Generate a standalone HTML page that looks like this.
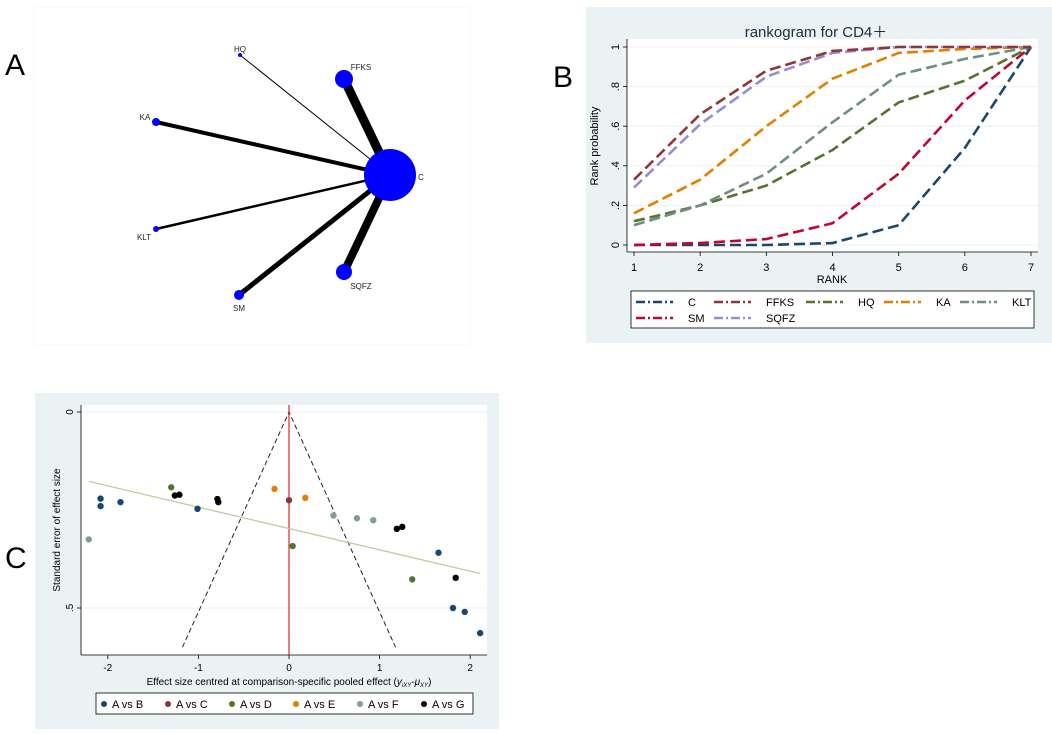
<!DOCTYPE html>
<html><head><meta charset="utf-8">
<style>
body{margin:0;background:#fff;width:1052px;height:734px;overflow:hidden;font-family:"Liberation Sans",sans-serif;}
svg{position:absolute;left:0;top:0;}
</style></head>
<body>
<svg id="fig" width="1052" height="734" xmlns="http://www.w3.org/2000/svg" font-family="Liberation Sans, sans-serif">
  <text x="5" y="75" font-size="30">A</text>
  <text x="553" y="87" font-size="30">B</text>
  <text x="5" y="568" font-size="30">C</text>
  <rect x="34" y="7" width="436" height="338" fill="none" stroke="#f8f8f8"/>
  <g id="net"></g>
  <rect x="586" y="7" width="466" height="336" fill="#eaf2f3"/>
  <g id="rank"></g>
  <rect x="35" y="393" width="464" height="336" fill="#eaf2f3"/>
  <g id="funnel"></g>
</svg>
<script>
// ---------- Network data ----------
const nodeNames = ["C","HQ","FFKS","KA","KLT","SM","SQFZ"];
const nodeX = [390,240,344,156,156,239,344];
const nodeY = [175,55,79,122,229,295,272];
const nodeSize = [26,2,9,4,3,5,8];
const edgeWidth = [0,1,9,4,2.5,5,8];
const labelDX = [31,0,17,-11,-12,0,17];
const labelDY = [5,-3,-9,-2,11,16,17];

// ---------- Rankogram data ----------
const ranks = [1,2,3,4,5,6,7];
const treatments = ["C","FFKS","HQ","KA","KLT","SM","SQFZ"];
const probC    = [0,0,0,0.01,0.10,0.49,1];
const probFFKS = [0.33,0.66,0.88,0.98,1,1,1];
const probHQ   = [0.12,0.20,0.30,0.48,0.72,0.83,1];
const probKA   = [0.16,0.33,0.60,0.84,0.97,0.99,1];
const probKLT  = [0.10,0.20,0.36,0.62,0.86,0.94,1];
const probSM   = [0,0.01,0.03,0.11,0.36,0.73,1];
const probSQFZ = [0.29,0.61,0.85,0.97,1,1,1];
const rankYTicks = [0,0.2,0.4,0.6,0.8,1];
const rankYLabels = ["0",".2",".4",".6",".8","1"];

// ---------- Funnel data ----------
const groups = ["A vs B","A vs C","A vs D","A vs E","A vs F","A vs G"];
const effB = [-2.08,-2.08,-1.86,-1.01,1.65,1.81,1.94,2.11];
const seB  = [0.221,0.240,0.230,0.247,0.359,0.500,0.510,0.564];
const effC = [0];
const seC  = [0.225];
const effD = [-1.30,0.04,1.36];
const seD  = [0.192,0.342,0.427];
const effE = [-0.16,0.18];
const seE  = [0.196,0.219];
const effF = [-2.21,0.49,0.75,0.93];
const seF  = [0.325,0.264,0.271,0.276];
const effG = [-1.26,-1.21,-0.79,-0.78,1.19,1.25,1.84];
const seG  = [0.213,0.211,0.222,0.230,0.298,0.293,0.423];
const regLineX = [-2.21,2.11];
const regLineY = [0.177,0.412];
const funnelMaxSE = [0.6];
const funnelXTicks = [-2,-1,0,1,2];
const funnelYTicks = [0,0.5];
const funnelYLabels = ["0",".5"];

const NS="http://www.w3.org/2000/svg";
function mk(parent,tag,attrs,text){const e=document.createElementNS(NS,tag);for(const k in attrs)e.setAttribute(k,attrs[k]);if(text!==undefined)e.textContent=text;parent.appendChild(e);return e;}

// ---------- Network ----------
(function(){
  const g=document.getElementById('net');
  for(let i=1;i<nodeNames.length;i++){
    const l=mk(g,'line',{x1:nodeX[0],y1:nodeY[0],x2:nodeX[i],y2:nodeY[i],stroke:'#000','stroke-width':edgeWidth[i]});
    
    
  }
  for(let i=0;i<nodeNames.length;i++){
    const c=mk(g,'circle',{cx:nodeX[i],cy:nodeY[i],r:nodeSize[i],fill:'#0000ff'});
    
    
    const t=mk(g,'text',{x:nodeX[i]+labelDX[i],y:nodeY[i]+labelDY[i],'font-size':8,'text-anchor':'middle',fill:'#222'},nodeNames[i]);
    
    
  }
})();

// ---------- Rankogram ----------
(function(){
  const g=document.getElementById('rank');
  const L=627,R=1038,T=39,B=252;
  const xs=r=>634+(r-1)*(1031-634)/6;
  const ys=v=>245-v*(245-47);
  mk(g,'rect',{x:L,y:T,width:R-L,height:B-T,fill:'#fff'});
  const title=mk(g,'text',{x:816,y:37,'font-size':15,'text-anchor':'middle',fill:'#1e2d3c'},'rankogram for CD4＋');
  
  
  rankYTicks.forEach((v,i)=>{
    const gl=mk(g,'line',{x1:L,x2:R,y1:ys(v),y2:ys(v),stroke:'#eaf2f3','stroke-width':1});
    
    
    mk(g,'line',{x1:L-4,x2:L,y1:ys(v),y2:ys(v),stroke:'#000','stroke-width':0.8});
    const t=mk(g,'text',{x:0,y:0,'font-size':11,'text-anchor':'middle',transform:`translate(619,${ys(v)}) rotate(-90)`},rankYLabels[i]);
    
    
  });
  mk(g,'line',{x1:L,x2:L,y1:T,y2:B,stroke:'#000','stroke-width':0.8});
  mk(g,'line',{x1:L,x2:R,y1:B,y2:B,stroke:'#000','stroke-width':0.8});
  ranks.forEach(r=>{
    mk(g,'line',{x1:xs(r),x2:xs(r),y1:B,y2:B+4,stroke:'#000','stroke-width':0.8});
    const t=mk(g,'text',{x:xs(r),y:271,'font-size':11,'text-anchor':'middle'},String(r));
    
    
  });
  const xt=mk(g,'text',{x:832,y:283,'font-size':11,'text-anchor':'middle'},'RANK');
  
  
  const yt=mk(g,'text',{x:0,y:0,'font-size':11,'text-anchor':'middle',transform:'translate(598,146) rotate(-90)'},'Rank probability');
  
  
  const series=[probC,probFFKS,probHQ,probKA,probKLT,probSM,probSQFZ];
  const colors=['#1a476f','#90353b','#55752f','#e37e00','#6e8e84','#c10534','#938dd2'];
  const order=[0,2,4,3,5,6,1];
  order.forEach(i=>{
    const p=mk(g,'polyline',{points:series[i].map((v,k)=>xs(ranks[k])+','+ys(v)).join(' '),fill:'none',stroke:colors[i],'stroke-width':2.6,'stroke-dasharray':'11,5'});
    
    
  });
  const lg=mk(g,'rect',{x:631,y:291,width:403,height:37,fill:'#fff',stroke:'#000','stroke-width':0.8});
  
  
  const lx=[636,714,806,884,960],ly=[302,318];
  treatments.forEach((n,i)=>{
    const x=lx[i%5],y=ly[Math.floor(i/5)];
    mk(g,'line',{x1:x,x2:x+37,y1:y,y2:y,stroke:colors[i],'stroke-width':2.4,'stroke-dasharray':'9,3,2,3'});
    const t=mk(g,'text',{x:x+52,y:y+4,'font-size':11},n);
    
    
  });
})();

// ---------- Funnel ----------
(function(){
  const g=document.getElementById('funnel');
  const L=81,R=487,T=405,B=655;
  const xs=v=>289+v*90.6;
  const ys=v=>412+v*392;
  mk(g,'rect',{x:L,y:T,width:R-L,height:B-T,fill:'#fff'});
  funnelYTicks.forEach((v,i)=>{
    mk(g,'line',{x1:L,x2:R,y1:ys(v),y2:ys(v),stroke:'#eaf2f3','stroke-width':1});
    mk(g,'line',{x1:L-4,x2:L,y1:ys(v),y2:ys(v),stroke:'#000','stroke-width':0.8});
    const t=mk(g,'text',{x:0,y:0,'font-size':10,'text-anchor':'middle',transform:`translate(73,${ys(v)}) rotate(-90)`},funnelYLabels[i]);
    
    
  });
  mk(g,'line',{x1:L,x2:L,y1:T,y2:B,stroke:'#000','stroke-width':0.8});
  mk(g,'line',{x1:L,x2:R,y1:B,y2:B,stroke:'#000','stroke-width':0.8});
  funnelXTicks.forEach(v=>{
    mk(g,'line',{x1:xs(v),x2:xs(v),y1:B,y2:B+4,stroke:'#000','stroke-width':0.8});
    const t=mk(g,'text',{x:xs(v),y:671,'font-size':10,'text-anchor':'middle'},String(v));
    
    
  });
  const xt=mk(g,'text',{x:289,y:685,'font-size':10,'text-anchor':'middle'});
  xt.innerHTML='Effect size centred at comparison-specific pooled effect (<tspan font-style="italic">y<tspan font-size="6" dy="2">iXY</tspan><tspan dy="-2">-μ</tspan><tspan font-size="6" dy="2">XY</tspan></tspan><tspan dy="-2">)</tspan>';
  
  
  const yt=mk(g,'text',{x:0,y:0,'font-size':10,'text-anchor':'middle',transform:'translate(60,530) rotate(-90)'},'Standard error of effect size');
  
  
  const m=funnelMaxSE[0];
  const f=mk(g,'polyline',{points:`${xs(-1.96*m)},${ys(m)} ${xs(0)},${ys(0)} ${xs(1.96*m)},${ys(m)}`,fill:'none',stroke:'#222','stroke-width':1,'stroke-dasharray':'5,3'});
  
  
  const z=mk(g,'line',{x1:xs(0),x2:xs(0),y1:T,y2:B,stroke:'#d62728','stroke-width':1.2});
  
  
  const rl=mk(g,'line',{x1:xs(regLineX[0]),y1:ys(regLineY[0]),x2:xs(regLineX[1]),y2:ys(regLineY[1]),stroke:'#c8c89a','stroke-width':1.3});
  
  
  const effs=[effB,effC,effD,effE,effF,effG],ses=[seB,seC,seD,seE,seF,seG];
  const colors=['#1a476f','#90353b','#55752f','#e37e00','#7f9f95','#000'];
  effs.forEach((arr,gi)=>{
    arr.forEach((v,k)=>{
      const c=mk(g,'circle',{cx:xs(v),cy:ys(ses[gi][k]),r:3.2,fill:colors[gi]});
      
      
    });
  });
  const lg=mk(g,'rect',{x:96,y:693,width:377,height:21,fill:'#fff',stroke:'#000','stroke-width':0.8});
  
  
  groups.forEach((n,i)=>{
    const x=104+i*64;
    mk(g,'circle',{cx:x,cy:704,r:3,fill:colors[i]});
    const t=mk(g,'text',{x:x+8,y:708,'font-size':11},n);
    
    
  });
})();
</script>
</body></html>
